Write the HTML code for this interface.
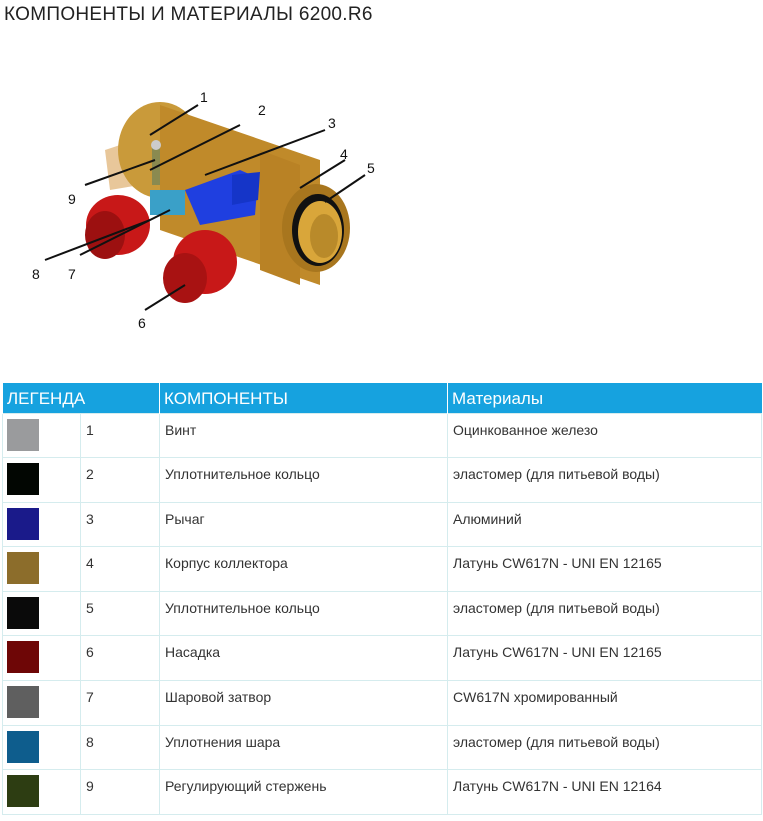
<!DOCTYPE html>
<html><head><meta charset="utf-8"><style>
body{margin:0;width:763px;height:821px;background:#fff;font-family:"Liberation Sans",sans-serif;position:relative;overflow:hidden}
h1{position:absolute;left:4px;top:4px;margin:0;font-weight:normal;font-size:19px;color:#222;letter-spacing:0.3px}
table{position:absolute;left:2px;top:383px;border-collapse:collapse;width:760px;table-layout:fixed;font-size:14px;color:#333}
th{background:#16a2df;color:#fff;font-weight:normal;text-align:left;font-size:17px;height:30px;padding:2px 0 0 4px;border-left:1px solid #fff;box-sizing:border-box}
td{height:44.6px;border:1px solid #d5ecee;vertical-align:top;padding:8px 0 0 5px;box-sizing:border-box}
.sw{width:32px;height:32px;margin:-3px 0 0 -1px}
</style></head><body>
<h1>КОМПОНЕНТЫ И МАТЕРИАЛЫ 6200.R6</h1>
<svg width="763" height="380" style="position:absolute;left:0;top:0">
<g font-family="Liberation Sans" font-size="14" fill="#111">
<path d="M105 150 L135 140 L140 185 L110 190Z" fill="#e8c79a"/>
<ellipse cx="160" cy="150" rx="42" ry="48" fill="#c99a3a"/>
<path d="M160 105 L320 160 L320 285 L160 230Z" fill="#c08a2a"/>
<path d="M260 150 L300 165 L300 285 L260 270Z" fill="#b98225"/>
<ellipse cx="316" cy="228" rx="34" ry="44" fill="#a8761e"/>
<ellipse cx="318" cy="230" rx="26" ry="36" fill="#111"/>
<ellipse cx="320" cy="232" rx="22" ry="31" fill="#d9a63a"/>
<ellipse cx="324" cy="236" rx="14" ry="22" fill="#b98a2a"/>
<path d="M185 190 L240 170 L258 178 L255 215 L200 225Z" fill="#1f3fe0"/>
<path d="M232 175 L260 172 L258 200 L232 205Z" fill="#1535c8"/>
<rect x="150" y="190" width="35" height="25" fill="#3aa0c8"/>
<ellipse cx="118" cy="225" rx="32" ry="30" fill="#c81818"/>
<ellipse cx="105" cy="235" rx="20" ry="24" fill="#9c1010"/>
<ellipse cx="205" cy="262" rx="32" ry="32" fill="#c81818"/>
<ellipse cx="185" cy="278" rx="22" ry="25" fill="#a81212"/>
<rect x="152" y="145" width="8" height="40" fill="#8a8a50"/>
<circle cx="156" cy="145" r="5" fill="#ccc"/>
<g stroke="#111" stroke-width="2">
<line x1="150" y1="135" x2="198" y2="105"/><line x1="150" y1="170" x2="240" y2="125"/>
<line x1="205" y1="175" x2="325" y2="130"/><line x1="300" y1="188" x2="345" y2="160"/>
<line x1="325" y1="202" x2="365" y2="175"/><line x1="85" y1="185" x2="155" y2="160"/>
<line x1="45" y1="260" x2="150" y2="220"/><line x1="80" y1="255" x2="170" y2="210"/>
<line x1="145" y1="310" x2="185" y2="285"/></g>
<text x="200" y="102">1</text><text x="258" y="115">2</text><text x="328" y="128">3</text>
<text x="340" y="159">4</text><text x="367" y="173">5</text><text x="68" y="204">9</text>
<text x="32" y="279">8</text><text x="68" y="279">7</text><text x="138" y="328">6</text>
</g></svg>
<table>
<colgroup><col style="width:78px"><col style="width:79px"><col style="width:288px"><col></colgroup>
<tr><th colspan="2">ЛЕГЕНДА</th><th>КОМПОНЕНТЫ</th><th>Материалы</th></tr>
<tr><td><div class="sw" style="background:#9a9b9d"></div></td><td>1</td><td>Винт</td><td>Оцинкованное железо</td></tr>
<tr><td><div class="sw" style="background:#020602"></div></td><td>2</td><td>Уплотнительное кольцо</td><td>эластомер (для питьевой воды)</td></tr>
<tr><td><div class="sw" style="background:#1a1a8a"></div></td><td>3</td><td>Рычаг</td><td>Алюминий</td></tr>
<tr><td><div class="sw" style="background:#8c6d2b"></div></td><td>4</td><td>Корпус коллектора</td><td>Латунь CW617N - UNI EN 12165</td></tr>
<tr><td><div class="sw" style="background:#0a0a0a"></div></td><td>5</td><td>Уплотнительное кольцо</td><td>эластомер (для питьевой воды)</td></tr>
<tr><td><div class="sw" style="background:#6e0606"></div></td><td>6</td><td>Насадка</td><td>Латунь CW617N - UNI EN 12165</td></tr>
<tr><td><div class="sw" style="background:#5f5f5f"></div></td><td>7</td><td>Шаровой затвор</td><td>CW617N хромированный</td></tr>
<tr><td><div class="sw" style="background:#0e5d8d"></div></td><td>8</td><td>Уплотнения шара</td><td>эластомер (для питьевой воды)</td></tr>
<tr><td><div class="sw" style="background:#2d3d12"></div></td><td>9</td><td>Регулирующий стержень</td><td>Латунь CW617N - UNI EN 12164</td></tr>
</table>
</body></html>
